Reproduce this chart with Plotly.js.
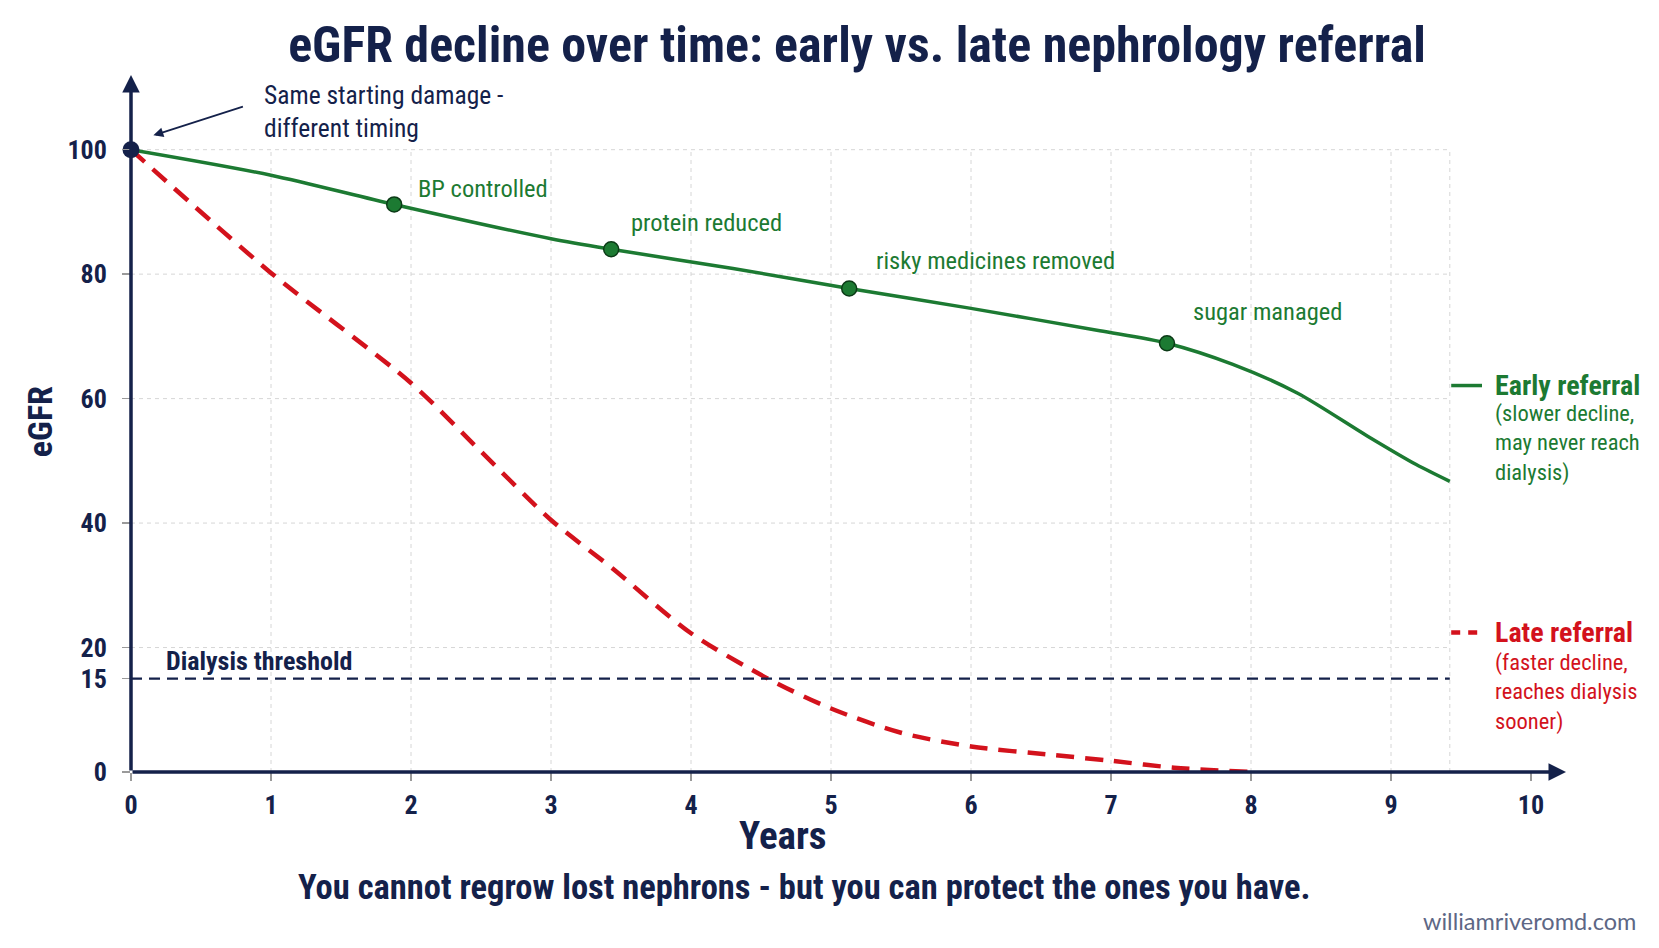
<!DOCTYPE html>
<html>
<head>
<meta charset="utf-8">
<script src="https://cdn.plot.ly/plotly-3.0.1.min.js"></script>
<style>html,body{margin:0;padding:0;background:#fff;}#chart{width:1659px;height:948px;}</style>
</head>
<body>
<div id="chart"></div>
<script>
// ---- data ----
const earlyYears = [0, 1, 1.88, 3, 3.43, 4.3, 5.13, 6, 6.92, 7.40, 7.87, 8.33, 8.83, 9.18, 9.42];
const earlyEGFR  = [100, 95.9, 91.2, 85.7, 84.0, 80.9, 77.7, 74.5, 70.9, 68.9, 65.5, 60.9, 54.0, 49.4, 46.7];
const lateYears  = [0, 1, 2, 2.5, 3, 3.44, 4, 4.55, 5, 5.5, 6, 6.6, 7, 7.45, 8];
const lateEGFR   = [100, 80.2, 62.5, 51.5, 40.5, 32.7, 22.3, 15, 10.2, 6.3, 4.1, 2.7, 1.8, 0.7, 0];
const milestoneYears  = [1.88, 3.43, 5.13, 7.40];
const milestoneEGFR   = [91.2, 84.0, 77.7, 68.9];
const milestoneLabels = ['BP controlled', 'protein reduced', 'risky medicines removed', 'sugar managed'];
const startYear = [0];
const startEGFR = [100];
const dialysisThreshold = 15;
const xTickVals = [0, 1, 2, 3, 4, 5, 6, 7, 8, 9, 10];
const yTickVals = [0, 15, 20, 40, 60, 80, 100];
const gridXVals = [1, 2, 3, 4, 5, 6, 7, 8, 9];
const gridYVals = [20, 40, 60, 80, 100];

// ---- styles ----
const NAVY = '#14214a';
const GREEN = '#1c7a32';
const RED = '#d3121c';
const NARROW = '"Liberation Sans Narrow", "Arial Narrow", "Roboto Condensed", sans-serif';
const gridEnd = earlyYears[earlyYears.length - 1];
const labelShift = [[22, 16], [18, 27], [25, 28], [24, 32]];

const traces = [
  {x: earlyYears, y: earlyEGFR, mode: 'lines', type: 'scatter', line: {color: GREEN, width: 3.5, shape: 'spline', smoothing: 0.8}, hoverinfo: 'skip', cliponaxis: false},
  {x: lateYears, y: lateEGFR, mode: 'lines', type: 'scatter', line: {color: RED, width: 4.5, dash: '18px,11px', shape: 'spline', smoothing: 0.8}, hoverinfo: 'skip', cliponaxis: false},
  {x: milestoneYears, y: milestoneEGFR, mode: 'markers', type: 'scatter', marker: {color: GREEN, size: 15, line: {color: '#0b3a16', width: 1.5}}, hoverinfo: 'skip', cliponaxis: false},
  {x: startYear, y: startEGFR, mode: 'markers', type: 'scatter', marker: {color: NAVY, size: 17}, hoverinfo: 'skip', cliponaxis: false}
];

const shapes = [];
gridXVals.concat([gridEnd]).forEach(v => shapes.push({type: 'line', xref: 'x', yref: 'y', x0: v, x1: v, y0: 0, y1: 100, line: {color: '#d6d6d6', width: 1, dash: '4px,4px'}, layer: 'below'}));
gridYVals.forEach(v => shapes.push({type: 'line', xref: 'x', yref: 'y', x0: 0, x1: gridEnd, y0: v, y1: v, line: {color: '#d6d6d6', width: 1, dash: '4px,4px'}, layer: 'below'}));
shapes.push({type: 'line', xref: 'x', yref: 'y', x0: 0, x1: gridEnd, y0: dialysisThreshold, y1: dialysisThreshold, line: {color: NAVY, width: 2.4, dash: '11px,7px'}});
// legend keys
shapes.push({type: 'line', xref: 'x', yref: 'y', x0: 9.43, x1: 9.65, y0: 62.1, y1: 62.1, line: {color: GREEN, width: 3.5}});
shapes.push({type: 'line', xref: 'x', yref: 'y', x0: 9.43, x1: 9.67, y0: 22.4, y1: 22.4, line: {color: RED, width: 4.5, dash: '9px,8px'}});

const annotations = [
  // axes arrows
  {x: 10.25, y: 0, ax: 0, ay: 0, axref: 'x', ayref: 'y', xref: 'x', yref: 'y', text: '', showarrow: true, arrowhead: 2, arrowsize: 1, arrowwidth: 3.5, arrowcolor: NAVY, standoff: 0},
  {x: 0, y: 112, ax: 0, ay: 0, axref: 'x', ayref: 'y', xref: 'x', yref: 'y', text: '', showarrow: true, arrowhead: 2, arrowsize: 1, arrowwidth: 3.5, arrowcolor: NAVY, standoff: 0},
  // start note
  {x: 0.16, y: 102.3, ax: 0.81, ay: 107, axref: 'x', ayref: 'y', xref: 'x', yref: 'y', text: '', showarrow: true, arrowhead: 2, arrowsize: 1.1, arrowwidth: 1.8, arrowcolor: NAVY, standoff: 0},
  {x: 0.936, y: 106.1, xref: 'x', yref: 'y', xanchor: 'left', yanchor: 'middle', align: 'left', showarrow: false,
   text: 'Same starting damage -<br>different timing', font: {family: NARROW, size: 25.5, color: NAVY}},
  {x: 0.236, y: 17.9, xref: 'x', yref: 'y', xanchor: 'left', yanchor: 'middle', showarrow: false,
   text: '<b>Dialysis threshold</b>', font: {family: NARROW, size: 26, color: NAVY}},
  // legend texts
  {x: 9.73, y: 62.1, xref: 'x', yref: 'y', xanchor: 'left', yanchor: 'middle', showarrow: false,
   text: '<b>Early referral</b>', font: {family: NARROW, size: 28, color: GREEN}},
  {x: 9.73, y: 52.8, xref: 'x', yref: 'y', xanchor: 'left', yanchor: 'middle', align: 'left', showarrow: false,
   text: '(slower decline,<br>may never reach<br>dialysis)', font: {family: NARROW, size: 22.5, color: GREEN}},
  {x: 9.73, y: 22.4, xref: 'x', yref: 'y', xanchor: 'left', yanchor: 'middle', showarrow: false,
   text: '<b>Late referral</b>', font: {family: NARROW, size: 28, color: RED}},
  {x: 9.73, y: 12.9, xref: 'x', yref: 'y', xanchor: 'left', yanchor: 'middle', align: 'left', showarrow: false,
   text: '(faster decline,<br>reaches dialysis<br>sooner)', font: {family: NARROW, size: 22.5, color: RED}},
  // axis titles
  {x: -0.0634, y: 56.2, xref: 'paper', yref: 'y', xanchor: 'center', yanchor: 'middle', textangle: -90, showarrow: false,
   text: '<b>eGFR</b>', font: {family: NARROW, size: 34, color: NAVY}},
  {x: 4.66, y: -0.0918, xref: 'x', yref: 'paper', xanchor: 'center', yanchor: 'middle', showarrow: false,
   text: '<b>Years</b>', font: {family: NARROW, size: 39, color: NAVY}},
  {x: 4.81, y: -0.165, xref: 'x', yref: 'paper', xanchor: 'center', yanchor: 'middle', showarrow: false,
   text: '<b>You cannot regrow lost nephrons - but you can protect the ones you have.</b>', font: {family: NARROW, size: 34.5, color: NAVY}},
  {x: 1.0 + (1638 - 1566) / 1435, y: (772 - 921) / 697, xref: 'paper', yref: 'paper', xanchor: 'right', yanchor: 'middle', showarrow: false,
   text: 'williamriveromd.com', font: {family: 'Lato, sans-serif', size: 23.5, color: '#5d6785'}}
];

milestoneLabels.forEach((t, i) => annotations.push({
  x: milestoneYears[i], y: milestoneEGFR[i], xref: 'x', yref: 'y', xanchor: 'left', yanchor: 'middle', showarrow: false,
  xshift: labelShift[i][0], yshift: labelShift[i][1], text: t, font: {family: NARROW, size: 24.5, color: GREEN}
}));

const layout = {
  width: 1659, height: 948,
  paper_bgcolor: '#ffffff', plot_bgcolor: '#ffffff',
  margin: {l: 131, r: 93, t: 75, b: 176},
  showlegend: false,
  hovermode: false,
  title: {text: '<b>eGFR decline over time: early vs. late nephrology referral</b>', xref: 'container', yref: 'container',
          x: 857 / 1659, y: 1 - 44 / 948, xanchor: 'center', yanchor: 'middle',
          font: {family: NARROW, size: 50, color: NAVY}},
  xaxis: {range: [0, 10.25], tickvals: xTickVals, ticktext: xTickVals.map(v => '<b>' + v + '</b>'),
          showgrid: false, zeroline: false, showline: false, ticks: 'outside', ticklen: 8, tickcolor: '#9a9a9a', tickwidth: 1.5,
          tickfont: {family: NARROW, size: 26, color: NAVY}, ticklabelstandoff: 2, fixedrange: true},
  yaxis: {range: [0, 112], tickvals: yTickVals, ticktext: yTickVals.map(v => '<b>' + v + '</b>'),
          showgrid: false, zeroline: false, showline: false, ticks: 'outside', ticklen: 8, tickcolor: '#9a9a9a', tickwidth: 1.5,
          tickfont: {family: NARROW, size: 26, color: NAVY}, ticklabelstandoff: 10, fixedrange: true},
  shapes: shapes,
  annotations: annotations
};

Plotly.newPlot('chart', traces, layout, {displayModeBar: false, staticPlot: true});
</script>
</body>
</html>
